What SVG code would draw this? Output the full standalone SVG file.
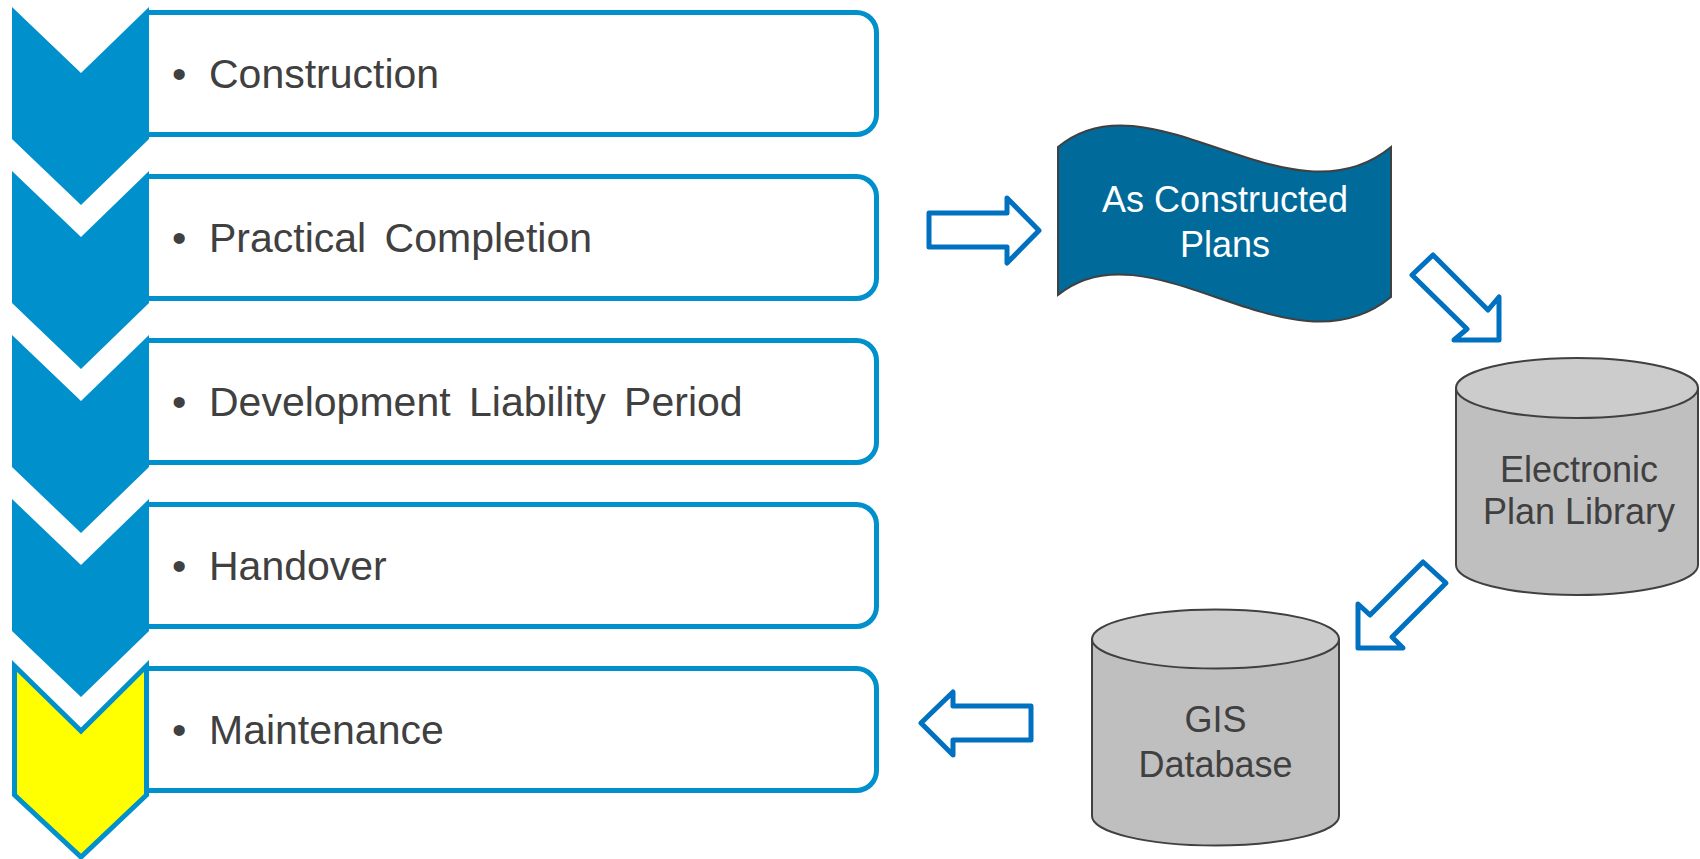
<svg xmlns="http://www.w3.org/2000/svg" width="1700" height="859" viewBox="0 0 1700 859">
<style>
  .box { fill: #FFFFFF; stroke: #0090CC; stroke-width: 5; }
  .chev { fill: #0090CC; }
  .chevy { fill: #FFFF00; stroke: #0090CC; stroke-width: 5; stroke-linejoin: miter; }
  .lbl { font-family: "Liberation Sans", Arial, sans-serif; font-size: 41px; fill: #404040; word-spacing: 7px; }
  .bul { font-family: "Liberation Sans", Arial, sans-serif; font-size: 41px; fill: #404040; }
  .arrow { fill: #FFFFFF; stroke: #0070C0; stroke-width: 5; stroke-linejoin: round; }
  .cylb { fill: #BFBFBF; stroke: #404040; stroke-width: 2; }
  .cylt { fill: #CCCCCC; stroke: #404040; stroke-width: 2; }
  .cyltxt { font-family: "Liberation Sans", Arial, sans-serif; font-size: 36px; fill: #404040; text-anchor: middle; }
  .wavetxt { font-family: "Liberation Sans", Arial, sans-serif; font-size: 36px; fill: #FFFFFF; text-anchor: middle; }
</style>

<g id="step-construction">
  <path class="box" d="M147,12.5 H856.5 A20,20 0 0 1 876.5,32.5 V114.5 A20,20 0 0 1 856.5,134.5 H147"/>
  <polygon class="chev" points="12,7 81,73 149,7 149,139 81,205 12,139"/>
  <text class="lbl" x="172" y="88"><tspan class="bul">•</tspan><tspan x="209">Construction</tspan></text>
</g>

<g id="step-practical-completion">
  <path class="box" d="M147,176.5 H856.5 A20,20 0 0 1 876.5,196.5 V278.5 A20,20 0 0 1 856.5,298.5 H147"/>
  <polygon class="chev" points="12,171 81,237 149,171 149,303 81,369 12,303"/>
  <text class="lbl" x="172" y="252"><tspan class="bul">•</tspan><tspan x="209">Practical Completion</tspan></text>
</g>

<g id="step-development-liability">
  <path class="box" d="M147,340.5 H856.5 A20,20 0 0 1 876.5,360.5 V442.5 A20,20 0 0 1 856.5,462.5 H147"/>
  <polygon class="chev" points="12,335 81,401 149,335 149,467 81,533 12,467"/>
  <text class="lbl" x="172" y="416"><tspan class="bul">•</tspan><tspan x="209">Development Liability Period</tspan></text>
</g>

<g id="step-handover">
  <path class="box" d="M147,504.5 H856.5 A20,20 0 0 1 876.5,524.5 V606.5 A20,20 0 0 1 856.5,626.5 H147"/>
  <polygon class="chev" points="12,499 81,565 149,499 149,631 81,697 12,631"/>
  <text class="lbl" x="172" y="580"><tspan class="bul">•</tspan><tspan x="209">Handover</tspan></text>
</g>

<g id="step-maintenance">
  <path class="box" d="M147,668.5 H856.5 A20,20 0 0 1 876.5,688.5 V770.5 A20,20 0 0 1 856.5,790.5 H147"/>
  <polygon class="chevy" points="14.5,666 81,731 146.5,666 146.5,795 81,857 14.5,795"/>
  <text class="lbl" x="172" y="744"><tspan class="bul">•</tspan><tspan x="209">Maintenance</tspan></text>
</g>

<g id="as-constructed-plans">
  <path d="M1058,147 C1150,70 1290,230 1391,147 L1391,297 C1290,380 1150,220 1058,295 Z" fill="#006A9A" stroke="#404040" stroke-width="2"/>
  <text class="wavetxt" x="1225" y="212">As Constructed</text>
  <text class="wavetxt" x="1225" y="257">Plans</text>
</g>

<g id="electronic-plan-library">
  <path class="cylb" d="M1456,388 L1456,565 A121,30 0 0 0 1698,565 L1698,388 Z"/>
  <ellipse class="cylt" cx="1577" cy="388" rx="121" ry="30"/>
  <text class="cyltxt" x="1579" y="482">Electronic</text>
  <text class="cyltxt" x="1579" y="524">Plan Library</text>
</g>

<g id="gis-database">
  <path class="cylb" d="M1092,639 L1092,816 A123.5,29.5 0 0 0 1339,816 L1339,639 Z"/>
  <ellipse class="cylt" cx="1215.5" cy="639" rx="123.5" ry="29.5"/>
  <text class="cyltxt" x="1215.5" y="732">GIS</text>
  <text class="cyltxt" x="1215.5" y="777">Database</text>
</g>

<g id="connectors">
  <polygon class="arrow" points="929,213 1007,213 1007,198 1039,230.5 1007,263 1007,247 929,247"/>
  <polygon class="arrow" points="1433,255 1488,310 1499,297 1499,340 1454,340 1467,329 1412,275"/>
  <polygon class="arrow" points="1423,562 1446,583 1392,637 1403,648 1358,648 1358,604 1370,615"/>
  <polygon class="arrow" points="921,723 953,692 953,706 1031,706 1031,740 953,740 953,755"/>
</g>
</svg>
